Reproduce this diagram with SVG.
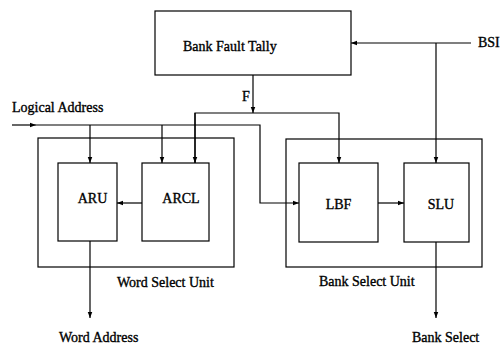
<svg xmlns="http://www.w3.org/2000/svg" width="501" height="346" viewBox="0 0 501 346">
<style>
.box{fill:none;stroke:#000;stroke-width:1.2}
.ln{fill:none;stroke:#000;stroke-width:1.2}
.t{font-family:"Liberation Serif","Times New Roman",serif;font-size:14px;fill:#000;stroke:#000;stroke-width:0.35}
</style>
<defs>
<marker id="a" viewBox="0 0 8 8" refX="8" refY="4" markerWidth="6" markerHeight="6" orient="auto" markerUnits="userSpaceOnUse">
<path d="M0,1 L8,4 L0,7 z" fill="#000"/>
</marker>
</defs>
<rect width="501" height="346" fill="#fff"/>
<g id="bft"><rect class="box" x="155" y="11" width="196" height="64"/><text class="t" x="183" y="51">Bank Fault Tally</text></g>
<g id="wsu"><rect class="box" x="38" y="138" width="196" height="129"/><text class="t" x="117" y="287">Word Select Unit</text></g>
<g id="bsu"><rect class="box" x="286" y="139" width="196" height="128"/><text class="t" x="319" y="286">Bank Select Unit</text></g>
<g id="aru"><rect class="box" x="58" y="163" width="59" height="78"/><text class="t" x="92.5" y="203" text-anchor="middle">ARU</text></g>
<g id="arcl"><rect class="box" x="142" y="163" width="67" height="78"/><text class="t" x="181" y="203" text-anchor="middle">ARCL</text></g>
<g id="lbf"><rect class="box" x="299" y="163" width="79" height="79"/><text class="t" x="338.5" y="209" text-anchor="middle">LBF</text></g>
<g id="slu"><rect class="box" x="404" y="163" width="65" height="79"/><text class="t" x="441" y="209" text-anchor="middle">SLU</text></g>
<g id="labels">
<text class="t" x="12" y="112">Logical Address</text>
<text class="t" x="242" y="101">F</text>
<text class="t" x="478" y="47">BSI</text>
<text class="t" x="59" y="342">Word Address</text>
<text class="t" x="412" y="342">Bank Select</text>
</g>
<g id="connectors">
<line class="ln" x1="12" y1="125" x2="36" y2="125" marker-end="url(#a)"/>
<polyline class="ln" points="36,125 260,125 260,203 299,203" marker-end="url(#a)"/>
<line class="ln" x1="90" y1="125" x2="90" y2="163" marker-end="url(#a)"/>
<line class="ln" x1="162" y1="125" x2="162" y2="163" marker-end="url(#a)"/>
<line class="ln" x1="253" y1="75" x2="253" y2="113" marker-end="url(#a)"/>
<polyline class="ln" points="195,163 195,113 339,113 339,163" marker-end="url(#a)"/>
<line class="ln" x1="195" y1="113" x2="195" y2="163" marker-end="url(#a)"/>
<line class="ln" x1="471" y1="43" x2="351" y2="43" marker-end="url(#a)"/>
<line class="ln" x1="436" y1="43" x2="436" y2="163" marker-end="url(#a)"/>
<line class="ln" x1="142" y1="203" x2="117" y2="203" marker-end="url(#a)"/>
<line class="ln" x1="378" y1="203" x2="404" y2="203" marker-end="url(#a)"/>
<line class="ln" x1="90" y1="241" x2="90" y2="318" marker-end="url(#a)"/>
<line class="ln" x1="436" y1="242" x2="436" y2="318" marker-end="url(#a)"/>
</g>
</svg>
